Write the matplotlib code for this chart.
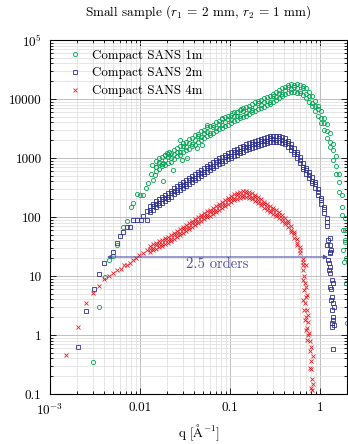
import matplotlib
matplotlib.use("Agg")
import matplotlib.pyplot as plt
from matplotlib.ticker import LogLocator, FixedLocator, FixedFormatter, NullFormatter

plt.rcParams['font.family'] = ['cmr10', 'DejaVu Serif']
plt.rcParams['mathtext.fontset'] = 'cm'
plt.rcParams['axes.unicode_minus'] = False
plt.rcParams['axes.formatter.use_mathtext'] = True

# ---------------- data ----------------
title = r"Small sample ($r_1$ = 2 mm, $r_2$ = 1 mm)"
xlabel = r"q [$\mathrm{\AA}^{-1}$]"
labels = ["Compact SANS 1m", "Compact SANS 2m", "Compact SANS 4m"]

x_ticks = [1e-3, 1e-2, 1e-1, 1]
x_ticklabels = [r"$10^{-3}$", "0.01", "0.1", "1"]
y_ticks = [0.1, 1, 10, 100, 1000, 10000, 1e5]
y_ticklabels = ["0.1", "1", "10", "100", "1000", "10000", r"$10^5$"]

# Compact SANS 1m (dense band: upper edge / middle / lower edge)
green_q = [0.0151, 0.0163, 0.0176, 0.0190, 0.0205, 0.0221, 0.0239, 0.0258, 0.0278, 0.0300,
           0.0324, 0.0350, 0.0378, 0.0408, 0.0441, 0.0476, 0.0514, 0.0555, 0.0600, 0.0647,
           0.0699, 0.0755, 0.0815, 0.0880, 0.0950, 0.103, 0.111, 0.120, 0.129, 0.139,
           0.151, 0.163, 0.176, 0.190, 0.205, 0.221, 0.239, 0.258, 0.278, 0.300,
           0.324, 0.350, 0.378, 0.408, 0.441, 0.476, 0.514, 0.555, 0.600, 0.647,
           0.699, 0.755, 0.815, 0.880, 0.950, 1.026, 1.107, 1.196, 1.292, 1.394,
           1.506, 1.626, 1.756, 1.896]
green_hi = [890, 1000, 1040, 1130, 1170, 1220, 1370, 1480, 1600, 1800,
            1870, 2100, 2180, 2450, 2550, 2870, 2980, 3350, 3490, 3630,
            4080, 4240, 4580, 4960, 5150, 5360, 6020, 6020, 6510, 7040,
            7320, 7610, 8230, 8900, 9250, 9620, 10400, 10800, 11300, 12200,
            13200, 14200, 15400, 16000, 17300, 18000, 17300, 18000, 17300, 16600,
            15400, 13200, 11300, 9250, 7610, 6260, 4770, 3770, 2650, 1730,
            1080, 536, 236, 96.2]
green_mid = [704, 856, 791, 925, 1040, 1000, 1170, 1270, 1270, 1600,
             1540, 1800, 1730, 2020, 2360, 2270, 2650, 2760, 2650, 3350,
             3230, 3770, 3630, 4080, 4580, 4410, 5150, 5150, 5150, 6260,
             5790, 6770, 6510, 7320, 8560, 7910, 8900, 9250, 8900, 11300,
             10800, 12700, 12200, 14200, 16000, 14800, 16000, 15400, 13700, 15400,
             12200, 11300, 8560, 7610, 6770, 4770, 3920, 2870, 1870, 1370,
             732, 392, 148, 60.2]
green_lo = [602, 651, 732, 761, 823, 856, 962, 1080, 1130, 1270,
            1370, 1420, 1600, 1660, 1870, 2020, 2180, 2360, 2450, 2650,
            2870, 3100, 3230, 3490, 3630, 3920, 4240, 4410, 4770, 4960,
            5150, 5570, 6020, 6260, 6770, 7040, 7320, 7910, 8230, 8900,
            9620, 10400, 11300, 12200, 12700, 13200, 13200, 12700, 12700, 11700,
            10400, 8900, 7610, 6260, 5150, 3920, 2980, 2180, 1540, 925,
            536, 265, 108, 37.7]
green_xq = [0.00301, 0.00350, 0.00408, 0.00453, 0.00501, 0.00555, 0.00648, 0.00717, 0.00794, 0.00836,
            0.00926, 0.0100, 0.0108, 0.0117, 0.0123, 0.0133, 0.0139, 0.0136, 0.0151, 0.0163,
            0.0180, 0.0190, 0.0211, 0.0180, 0.0147, 0.0199, 0.0233, 0.0290, 0.0337, 0.0425,
            0.0495, 0.0555, 0.0815, 0.106, 0.133, 0.0278, 1.80, 1.85, 1.88, 1.945,
            1.80, 1.945, 1.98]
green_xI = [0.349, 2.98, 9.62, 18.7, 21.8, 33.5, 67.7, 85.6, 148, 173,
            245, 240, 236, 310, 377, 536, 424, 761, 704, 823,
            823, 1130, 1270, 408, 515, 1220, 626, 925, 1000, 1480,
            1660, 3630, 4770, 5790, 6770, 2020, 27.6, 17.3, 40.8, 20.2,
            60, 7.61, 1.60]

# Compact SANS 2m
blue_q = [0.0129, 0.0139, 0.0151, 0.0163, 0.0176, 0.0190, 0.0205, 0.0221, 0.0239, 0.0258,
          0.0278, 0.0300, 0.0324, 0.0350, 0.0378, 0.0408, 0.0441, 0.0476, 0.0514, 0.0555,
          0.0600, 0.0647, 0.0699, 0.0755, 0.0815, 0.0880, 0.0950, 0.103, 0.111, 0.120,
          0.129, 0.139, 0.151, 0.163, 0.176, 0.190, 0.205, 0.221, 0.239, 0.258,
          0.278, 0.300, 0.324, 0.350, 0.378, 0.408, 0.441, 0.476, 0.514, 0.555,
          0.600, 0.647, 0.699, 0.755, 0.815, 0.880, 0.950, 1.026, 1.107, 1.196,
          1.292]
blue_hi = [154, 166, 187, 202, 218, 236, 255, 276, 310, 335,
           363, 392, 424, 458, 496, 536, 579, 626, 677, 732,
           791, 856, 925, 1000, 1040, 1130, 1220, 1270, 1370, 1420,
           1540, 1600, 1730, 1800, 1870, 1940, 2020, 2100, 2180, 2270,
           2360, 2360, 2360, 2360, 2270, 2180, 1940, 1730, 1480, 1270,
           1040, 823, 677, 579, 477, 392, 298, 210, 148, 96.2,
           44.1]
blue_mid = [132, 154, 166, 173, 202, 210, 218, 255, 276, 287,
            335, 349, 363, 424, 441, 458, 536, 557, 579, 677,
            704, 732, 856, 890, 890, 1040, 1080, 1080, 1270, 1270,
            1320, 1480, 1540, 1540, 1730, 1730, 1730, 1940, 1940, 1940,
            2180, 2100, 2020, 2180, 2020, 1870, 1800, 1540, 1270, 1170,
            925, 704, 626, 515, 408, 363, 265, 194, 137, 82.3,
            33.5]
blue_lo = [122, 132, 148, 160, 173, 187, 202, 218, 245, 265,
           287, 310, 335, 363, 392, 424, 458, 496, 536, 579,
           626, 677, 732, 791, 823, 890, 962, 1000, 1080, 1130,
           1220, 1270, 1370, 1420, 1480, 1540, 1600, 1660, 1730, 1800,
           1870, 1870, 1870, 1870, 1800, 1730, 1540, 1370, 1170, 1000,
           823, 651, 536, 458, 377, 310, 236, 166, 117, 70.4,
           25.5]
blue_xq = [0.00205, 0.00251, 0.00308, 0.00350, 0.00398, 0.00501, 0.00555, 0.00600, 0.00648, 0.00717,
           0.00774, 0.00836, 0.00926, 0.0103, 0.0108, 0.0120, 0.0120,
           1.227, 1.196, 1.292, 1.227, 1.292, 1.292, 1.359, 1.292, 1.359, 1.394,
           1.359, 1.394, 1.359, 1.359, 1.394, 1.258, 1.325,
           1.325, 1.258, 1.394, 1.325, 1.43, 1.394, 1.43]
blue_xI = [0.626, 2.55, 6.02, 10.8, 16.6, 25.5, 36.3, 47.7, 55.7, 67.7,
           67.7, 89, 89, 89, 104, 89, 127,
           40.8, 33.5, 24.5, 18.7, 14.2, 11.3, 8.56, 6.51, 4.41, 3.49,
           2.65, 2.02, 1.60, 1.37, 0.579, 16.6, 5.95,
           27.6, 12.7, 7.61, 3.92, 2.98, 1.80, 1.48]

# Compact SANS 4m
red_q = [0.0129, 0.0139, 0.0151, 0.0163, 0.0176, 0.0190, 0.0205, 0.0221, 0.0239, 0.0258,
         0.0278, 0.0300, 0.0324, 0.0350, 0.0378, 0.0408, 0.0441, 0.0476, 0.0514, 0.0555,
         0.0600, 0.0647, 0.0699, 0.0755, 0.0815, 0.0880, 0.0950, 0.103, 0.111, 0.120,
         0.129, 0.139, 0.151, 0.163, 0.176, 0.190, 0.205, 0.221, 0.239, 0.258,
         0.278, 0.300, 0.324, 0.350, 0.378, 0.408, 0.441, 0.476, 0.514, 0.555,
         0.600, 0.647]
red_hi = [32.3, 34.9, 36.3, 39.2, 40.8, 44.1, 45.8, 49.6, 53.6, 57.9,
          62.6, 67.7, 73.2, 79.1, 85.6, 92.5, 100, 108, 117, 127,
          132, 142, 154, 166, 180, 194, 210, 227, 245, 255,
          265, 276, 276, 265, 255, 236, 218, 202, 180, 166,
          154, 142, 132, 122, 108, 96.2, 85.6, 70.4, 55.7, 42.4,
          31.0, 19.4]
red_mid = [28.7, 29.8, 33.5, 34.9, 34.9, 40.8, 40.8, 42.4, 49.6, 51.5,
           53.6, 62.6, 65.1, 67.7, 79.1, 82.3, 85.6, 100, 104, 108,
           122, 127, 132, 154, 160, 166, 194, 202, 210, 236,
           236, 236, 255, 236, 218, 218, 194, 173, 166, 148,
           132, 132, 113, 108, 96.2, 82.3, 79.1, 60.2, 51.5, 36.3,
           27.6, 17.3]
red_lo = [25.5, 27.6, 28.7, 31.0, 32.3, 34.9, 36.3, 39.2, 42.4, 45.8,
          49.6, 53.6, 57.9, 62.6, 67.7, 73.2, 79.1, 85.6, 92.5, 100,
          104, 113, 122, 132, 142, 154, 166, 180, 194, 202,
          210, 218, 218, 210, 202, 187, 173, 160, 142, 132,
          122, 113, 104, 96.2, 85.6, 76.1, 67.7, 55.7, 44.1, 33.5,
          24.5, 15.4]
red_xq = [0.00151, 0.00205, 0.00251, 0.00301, 0.00350, 0.00398, 0.00453, 0.00501, 0.00555, 0.00612,
          0.00663, 0.00717, 0.00774, 0.00836, 0.00902, 0.00976, 0.0108, 0.0120,
          0.647, 0.664, 0.681, 0.664, 0.699, 0.681, 0.717, 0.699, 0.735, 0.717,
          0.755, 0.774, 0.794, 0.774, 0.835, 0.794, 0.774, 0.794, 0.815, 0.835,
          0.794, 0.815,
          0.699, 0.647, 0.699, 0.647, 0.717, 0.664, 0.681, 0.735, 0.699, 0.735, 0.717]
red_xI = [0.458, 1.37, 3.49, 5.15, 6.77, 8.9, 10, 11.3, 12.7, 13.2,
          15.4, 15.4, 16.6, 18.7, 20.2, 22.7, 24.5, 27.6,
          12.7, 10, 7.61, 5.79, 4.41, 3.49, 2.65, 2.02, 1.66, 1.32,
          1.08, 0.791, 0.626, 0.536, 0.441, 0.363, 0.276, 0.265, 0.180, 0.148,
          0.127, 0.117,
          15.4, 8.56, 6.51, 3.92, 4.77, 2.65, 1.80, 2.18, 1.22, 1.0, 0.823]

arrow_q = [0.0043, 1.23]
arrow_I = 21.0
arrow_text = "2.5 orders"
arrow_text_pos = (0.0717, 16.0)

# ---------------- style ----------------
c_green = "#00a651"
c_blue = "#2e3192"
c_red = "#ed1c24"
c_arrow = "#5050a8"

fig = plt.figure(figsize=(3.48, 4.44), dpi=100)
ax = fig.add_axes([50/348, 1-394/444, 297/348, 354/444])

ms_kw = dict(linestyle="none")
ax.plot(green_q + green_q + green_q + green_xq, green_hi + green_mid + green_lo + green_xI,
        marker="o", ms=3.0, mew=0.6, mfc="none", color=c_green, label=labels[0], **ms_kw)
ax.plot(blue_q + blue_q + blue_q + blue_xq, blue_hi + blue_mid + blue_lo + blue_xI,
        marker="s", ms=2.7, mew=0.6, mfc="none", color=c_blue, label=labels[1], **ms_kw)
ax.plot(red_q + red_q + red_q + red_xq, red_hi + red_mid + red_lo + red_xI,
        marker="x", ms=2.6, mew=0.6, color=c_red, label=labels[2], **ms_kw)

ax.set_xscale("log")
ax.set_yscale("log")
ax.set_xlim(1e-3, 2.0)
ax.set_ylim(0.1, 1e5)

ax.xaxis.set_major_locator(FixedLocator(x_ticks))
ax.xaxis.set_major_formatter(FixedFormatter(x_ticklabels))
ax.yaxis.set_major_locator(FixedLocator(y_ticks))
ax.yaxis.set_major_formatter(FixedFormatter(y_ticklabels))
ax.xaxis.set_minor_locator(LogLocator(base=10, subs=range(2, 10), numticks=20))
ax.yaxis.set_minor_locator(LogLocator(base=10, subs=range(2, 10), numticks=20))
ax.xaxis.set_minor_formatter(NullFormatter())
ax.yaxis.set_minor_formatter(NullFormatter())

ax.tick_params(which="both", direction="in", top=True, right=True, labelsize=9.5, width=0.6)
ax.tick_params(which="major", length=4, pad=6)
ax.tick_params(which="minor", length=2)
for s in ax.spines.values():
    s.set_linewidth(0.8)
ax.grid(which="major", color="#b4b4b4", linewidth=0.6)
ax.grid(which="minor", color="#dcdcdc", linewidth=0.5)
ax.set_axisbelow(True)

ax.annotate("", xy=(arrow_q[1], arrow_I), xytext=(arrow_q[0], arrow_I),
            arrowprops=dict(arrowstyle="<|-|>", color=c_arrow, lw=0.8,
                            mutation_scale=6, shrinkA=0, shrinkB=0))
ax.text(arrow_text_pos[0], arrow_text_pos[1], arrow_text, color=c_arrow,
        fontsize=10.5, ha="center", va="center")

leg = ax.legend(loc="upper left", bbox_to_anchor=(0.045, 0.988), frameon=False,
                fontsize=9.3, handlelength=1.0, handletextpad=0.8, borderpad=0.4,
                labelspacing=0.45, borderaxespad=0, numpoints=1)

fig.text(198.5/348, 1-12/444, title, ha="center", va="center", fontsize=9.5)
fig.text(198.5/348, 1-433/444, xlabel, ha="center", va="center", fontsize=9.5)

fig.savefig("out.png", dpi=100)
